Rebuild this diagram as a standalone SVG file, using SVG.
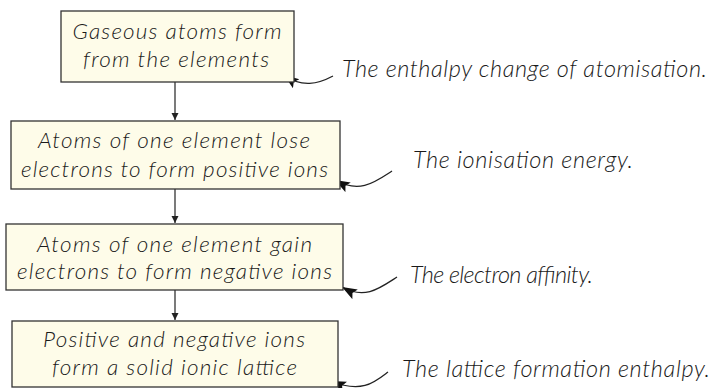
<svg xmlns="http://www.w3.org/2000/svg" width="712" height="388" viewBox="0 0 712 388">
<style>
.box{fill:#fefce9;stroke:#333;stroke-width:1.3}
.t{font-family:Lato,"Open Sans",sans-serif;font-style:italic;font-weight:300;font-size:22.5px;fill:#1a1a1a;text-anchor:middle}
.lbl{font-family:Lato,"Open Sans",sans-serif;font-style:italic;font-weight:300;font-size:23.5px;fill:#1a1a1a}
.flow{stroke:#333;stroke-width:1.3;fill:none}
.call{stroke:#222;stroke-width:1.3;fill:none}
</style>
<defs>
<marker id="sm" markerWidth="8" markerHeight="8" refX="7" refY="4" orient="auto" markerUnits="userSpaceOnUse"><path d="M0,0.5 L7,4 L0,7.5 Z" fill="#222"/></marker>
<marker id="big" markerWidth="16" markerHeight="12" refX="15" refY="5.5" orient="auto" markerUnits="userSpaceOnUse"><path d="M0,0 L15,5.5 L0,11 L3,5.5 Z" fill="#111"/></marker>
</defs>
<g id="connectors">
<path class="flow" d="M175,82 L175,120" marker-end="url(#sm)"/>
<path class="flow" d="M175,189 L175,223" marker-end="url(#sm)"/>
<path class="flow" d="M175,290 L175,320" marker-end="url(#sm)"/>
<path class="call" d="M333,76 C318,84 302,88 284,75" marker-end="url(#big)"/>
<path class="call" d="M392,171 C375,182 360,194 335,180" marker-end="url(#big)"/>
<path class="call" d="M397,277 C380,288 365,300 342,287" marker-end="url(#big)"/>
<path class="call" d="M388,372 C375,382 362,394 331,381" marker-end="url(#big)"/>
</g>
<g id="n1">
<rect class="box" x="61" y="11" width="233" height="71"/>
<text class="t" x="177" y="39" textLength="209" lengthAdjust="spacing">Gaseous atoms form</text>
<text class="t" x="176" y="66.5" textLength="186" lengthAdjust="spacing">from the elements</text>
</g>
<g id="n2">
<rect class="box" x="11" y="121" width="329" height="68"/>
<text class="t" x="174" y="148" textLength="272" lengthAdjust="spacing">Atoms of one element lose</text>
<text class="t" x="174.5" y="176.5" textLength="307" lengthAdjust="spacing">electrons to form positive ions</text>
</g>
<g id="n3">
<rect class="box" x="6" y="224" width="337" height="66"/>
<text class="t" x="174.5" y="251.5" textLength="275" lengthAdjust="spacing">Atoms of one element gain</text>
<text class="t" x="174.5" y="279" textLength="315" lengthAdjust="spacing">electrons to form negative ions</text>
</g>
<g id="n4">
<rect class="box" x="12" y="321" width="326" height="66"/>
<text class="t" x="174" y="346.5" textLength="262" lengthAdjust="spacing">Positive and negative ions</text>
<text class="t" x="174.5" y="375" textLength="245" lengthAdjust="spacing">form a solid ionic lattice</text>
</g>
<g id="l1"><text class="lbl" x="342" y="77" textLength="365" lengthAdjust="spacing">The enthalpy change of atomisation.</text></g>
<g id="l2"><text class="lbl" x="413" y="168" textLength="220" lengthAdjust="spacing">The ionisation energy.</text></g>
<g id="l3"><text class="lbl" x="410" y="283" textLength="183" lengthAdjust="spacing">The electron affinity.</text></g>
<g id="l4"><text class="lbl" x="402" y="377" textLength="308" lengthAdjust="spacing">The lattice formation enthalpy.</text></g>
</svg>
